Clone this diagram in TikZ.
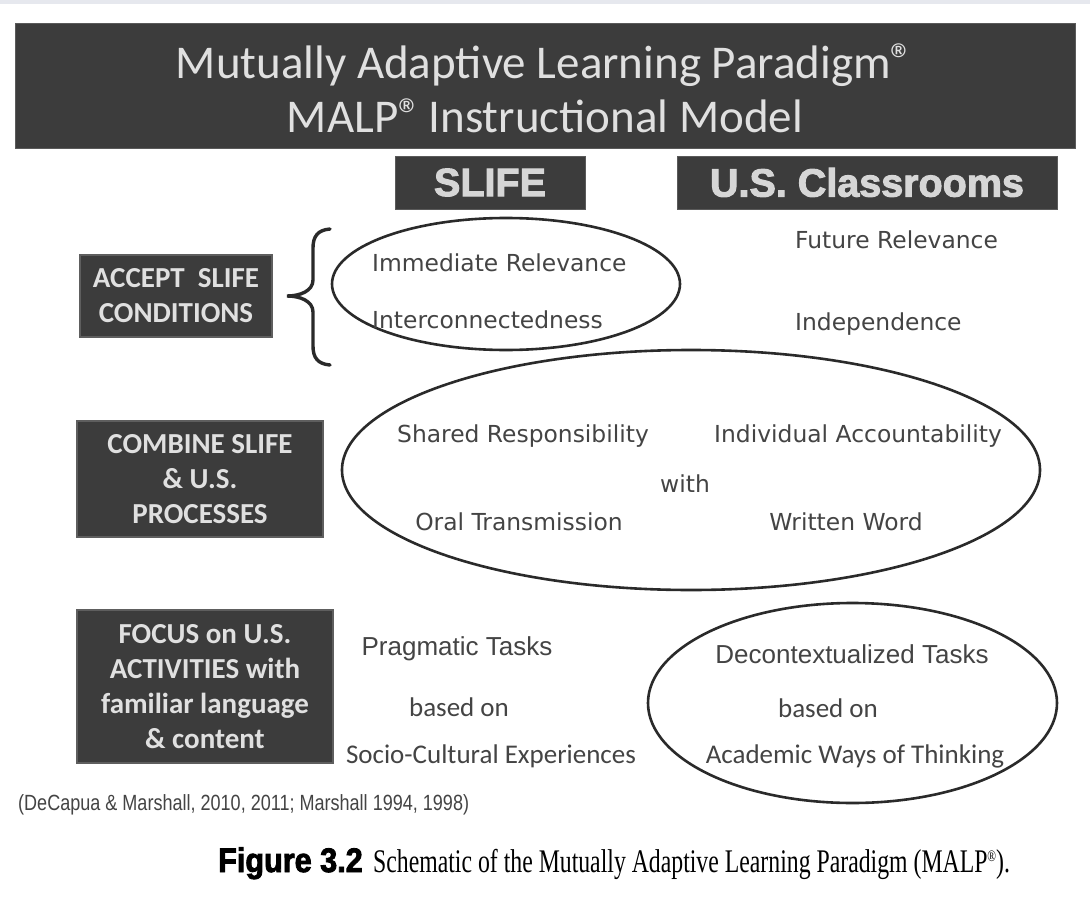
\documentclass[tikz,border=0pt]{standalone}
\usepackage{fontspec}
\setmainfont{Liberation Serif}
\newfontfamily\calibri{Carlito}
\newfontfamily\arialfont{Liberation Sans}
\newfontfamily\headfont[FakeBold=2.5]{Liberation Sans}
\newfontfamily\verdfont{DejaVu Sans}
\newfontfamily\citefont[FakeStretch=0.82]{Liberation Sans}
\newfontfamily\figfont[FakeStretch=0.9,FakeBold=2.5]{Liberation Sans}
\newfontfamily\capfont[FakeStretch=0.72]{Liberation Serif}
\usetikzlibrary{shapes.geometric}

\newcommand\fsz[2]{\fontsize{#1}{#2}\selectfont}
\newcommand\regsign{{\fsz{46}{46}\raisebox{2pt}{®}}}

\definecolor{barfill}{HTML}{3C3C3C}
\definecolor{barline}{HTML}{5A5A5A}
\definecolor{bevel}{HTML}{5E5E5E}
\definecolor{lighttext}{HTML}{E0E0E0}
\definecolor{headtext}{HTML}{D6D6D6}
\definecolor{inktext}{HTML}{444444}
\definecolor{ringink}{HTML}{2A2A2A}
\definecolor{topband}{HTML}{E6E8EE}

\tikzset{
  darkbar/.style={fill=barfill, draw=barline, line width=0.8pt, inner sep=0pt, text=lighttext},
  headbox/.style={darkbar, minimum height=53, text=headtext, font=\headfont\bfseries\fsz{39.5}{39.5}},
  stepbox/.style={fill=barfill, draw=bevel, line width=2pt, inner sep=0pt,
    align=center, text=lighttext, font=\calibri\bfseries\fsz{29}{35}},
  ring/.style={ellipse, draw=ringink, line width=2.6pt, inner sep=0pt},
  txt/.style={text=inktext, inner sep=0pt, anchor=base},
  verd/.style={txt, font=\verdfont\fsz{23.4}{23.4}},
  arial/.style={txt, font=\arialfont\fsz{26}{26}},
  cal/.style={txt, font=\calibri\fsz{27}{27}},
  titletext/.style={txt, text=lighttext, font=\calibri\fsz{47}{47}},
}

\begin{document}
\begin{tikzpicture}[x=1pt, y=-1pt]
\useasboundingbox (0,0) rectangle (1090,899);
\fill[white] (0,0) rectangle (1090,899);
\fill[topband] (0,0) rectangle (1090,4);

% title bar
\node[darkbar, minimum width=1060, minimum height=125] (titlebar) at (545,85.5) {};
\node[titletext] (title1) at (545,78)
  {Mutually Adaptive Learning Paradigm\regsign};
\node[titletext] (title2) at (545,132)
  {MALP\regsign\hspace{7pt}Instructional Model};

% column headers
\node[headbox, minimum width=190] (slife) at (490,182.5) {SLIFE};
\node[headbox, minimum width=380] (usclass) at (867,182.5) {U.S. Classrooms};

% row labels
\node[stepbox, minimum width=192, minimum height=82] (accept) at (176,296) {ACCEPT\ \ SLIFE\\CONDITIONS};
\node[stepbox, minimum width=246, minimum height=116] (combine) at (200,479) {COMBINE SLIFE\\\& U.S.\\PROCESSES};
\node[stepbox, minimum width=256, minimum height=153] (focus) at (205,686.5) {FOCUS on U.S.\\ACTIVITIES with\\familiar language\\\& content};

% brace
\draw[ringink, line width=3.4pt, line cap=round]
  (330,229) .. controls (318,230) and (313,236) .. (313,248)
  -- (313,280) .. controls (313,291) and (300,296) .. (287,296)
  .. controls (300,296) and (313,301) .. (313,312)
  -- (313,346) .. controls (313,358) and (318,364) .. (330,365);

% row 1
\node[ring, minimum width=348, minimum height=132] (ring1) at (506,284) {};
\node[verd, anchor=base west] (immrel) at (372,271) {Immediate Relevance};
\node[verd, anchor=base west] (intercon) at (372,328) {Interconnectedness};
\node[verd, anchor=base west] (futrel) at (795,248) {Future Relevance};
\node[verd, anchor=base west] (indep) at (795,330) {Independence};

% row 2
\node[ring, minimum width=698, minimum height=240] (ring2) at (691,470) {};
\node[verd] (shared) at (523,442) {Shared Responsibility};
\node[verd] (indiv) at (858,442) {Individual Accountability};
\node[verd] (with) at (685,492) {with};
\node[verd] (oral) at (519,530) {Oral Transmission};
\node[verd] (written) at (846,530) {Written Word};

% row 3
\node[ring, minimum width=409, minimum height=200] (ring3) at (852.5,703) {};
\node[arial] (pragm) at (457,655) {Pragmatic Tasks};
\node[cal] (basedl) at (459,716) {based on};
\node[cal] (socio) at (491,763) {Socio-Cultural Experiences};
\node[arial] (decon) at (852,663) {Decontextualized Tasks};
\node[cal] (basedr) at (828,717) {based on};
\node[cal] (academ) at (855,763) {Academic Ways of Thinking};

% source and caption
\node[txt, anchor=base west, font=\citefont\fsz{22}{22}, text=inktext] (cite) at (18,810)
  {(DeCapua \& Marshall, 2010, 2011; Marshall 1994, 1998)};
\node[txt, anchor=base west, font=\figfont\bfseries\fsz{34}{34}, text=black] (figtag) at (218,872) {Figure 3.2};
\node[txt, anchor=base west, font=\capfont\fsz{33}{33}, text=black] (figcap) at ([xshift=10pt]figtag.base east)
  {Schematic of the Mutually Adaptive Learning Paradigm (MALP{\fsz{16}{16}\raisebox{11pt}{®}}).};
\end{tikzpicture}
\end{document}
